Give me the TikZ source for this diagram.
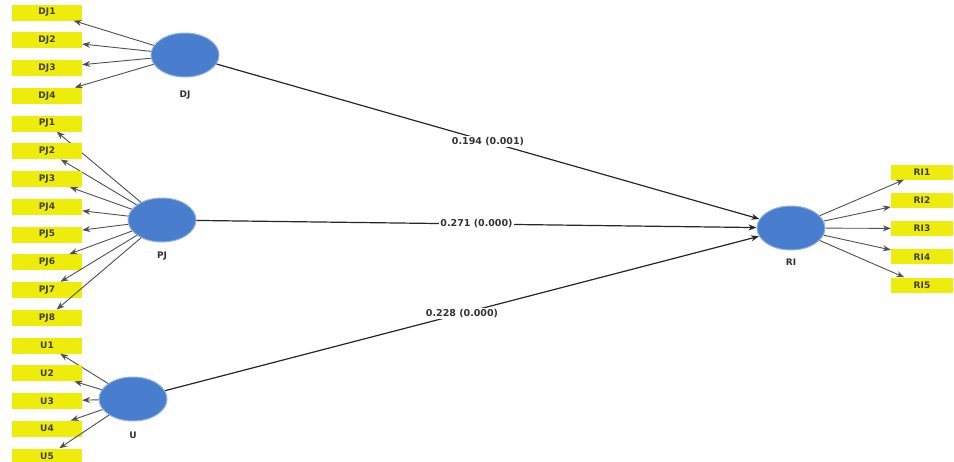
\documentclass[tikz,border=0pt]{standalone}
\usepackage{fontspec}
\setmainfont{DejaVu Sans}
\usetikzlibrary{shapes.geometric,arrows.meta}
\definecolor{itemyellow}{RGB}{238,236,10}
\definecolor{latentblue}{RGB}{72,126,205}
\definecolor{linegray}{RGB}{80,80,80}
\begin{document}
\begin{tikzpicture}[x=1pt,y=-1pt,>={Stealth[length=8pt,width=6pt]},
  item/.style={fill=itemyellow,minimum width=70pt,minimum height=16pt,inner sep=0pt,
    text=black!75,font=\bfseries\fontsize{9}{10}\selectfont},
  latent/.style={ellipse,fill=latentblue,draw=latentblue!60,line width=1pt,
    minimum width=68pt,minimum height=44pt,inner sep=0pt},
  lvname/.style={text=black!80,font=\bfseries\fontsize{9}{10}\selectfont},
  coef/.style={fill=white,inner sep=1pt,text=black!80,font=\bfseries\fontsize{9.5}{11}\selectfont},
  itemline/.style={draw=linegray,line width=0.9pt},
  pathline/.style={draw=black!85,line width=1.2pt}]
\useasboundingbox[fill=white] (0,0) rectangle (954,461);
% latent variables
\node[latent] (DJ) at (185,55) {};
\node[latent] (PJ) at (162,220) {};
\node[latent] (U) at (133,399) {};
\node[latent] (RI) at (791,228) {};
\node[lvname] (DJname) at (185,95) {DJ};
\node[lvname] (PJname) at (162,256) {PJ};
\node[lvname] (Uname) at (133,435) {U};
\node[lvname] (RIname) at (791,262) {RI};
% indicators
\foreach \i in {1,...,4} {
  \node[item] (DJ\i) at (47,{12.5+27.75*(\i-1)}) {DJ\i};
  \draw[itemline,->] (DJ) -- (DJ\i);
}
\foreach \i in {1,...,8} {
  \node[item] (PJ\i) at (47,{123.5+27.75*(\i-1)}) {PJ\i};
  \draw[itemline,->] (PJ) -- (PJ\i);
}
\foreach \i in {1,...,5} {
  \node[item] (U\i) at (47,{345.5+27.75*(\i-1)}) {U\i};
  \draw[itemline,->] (U) -- (U\i);
}
\foreach \i in {1,...,5} {
  \node[item,minimum width=62pt,minimum height=15pt] (RI\i) at (922,{172+28.25*(\i-1)}) {RI\i};
  \draw[itemline,->] (RI) -- (RI\i);
}
% structural paths
\draw[pathline,->] (DJ) -- node[coef] (cDJ) {0.194 (0.001)} (RI);
\draw[pathline,->] (PJ) -- node[coef] (cPJ) {0.271 (0.000)} (RI);
\draw[pathline,->] (U) -- node[coef] (cU) {0.228 (0.000)} (RI);
\end{tikzpicture}
\end{document}
